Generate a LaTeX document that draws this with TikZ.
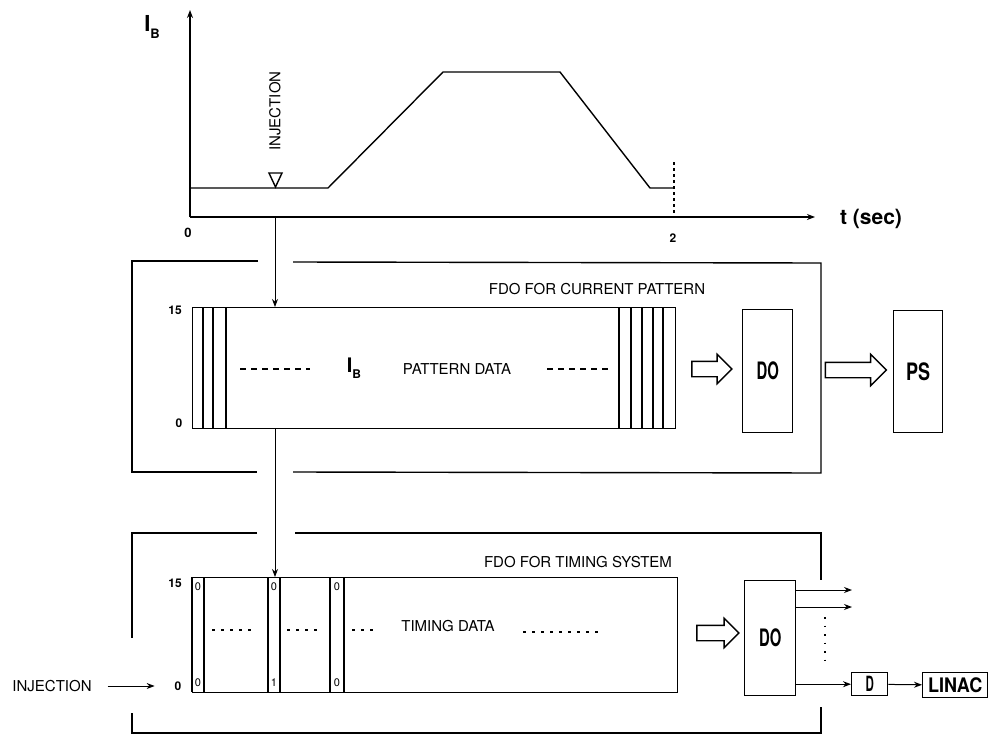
\documentclass[tikz,border=0pt]{standalone}
\usepackage{fontspec}
\setmainfont{TeX Gyre Heros}
\usetikzlibrary{arrows.meta,shapes.arrows}
\newcommand{\cnd}[2][0.7]{\scalebox{#1}[1]{\bfseries #2}}

\tikzset{
  blk/.style={draw,inner sep=0pt,anchor=north west},
  lbl/.style={font=\fontsize{15}{15}\selectfont},
  num/.style={font=\fontsize{12}{12}\selectfont\bfseries},
  bit/.style={font=\fontsize{11}{11}\selectfont,inner sep=0pt},
  big/.style={font=\fontsize{24}{24}\selectfont},
  fat/.style={draw,single arrow,inner sep=7pt,single arrow head extend=7pt,minimum height=#1},
  sig/.style={->,line width=1pt},
}

\begin{document}
\begin{tikzpicture}[x=1pt,y=-1pt,line width=1.4pt,>={Stealth[length=8pt,width=6pt]}]
  \useasboundingbox (0,0) rectangle (989,734);
  % magnet current cycle
  \coordinate (o) at (190,217);
  \draw[->] (o) -- (190,10);
  \draw[->] (o) -- (815,217);
  \node[font=\fontsize{22}{22}\selectfont\bfseries] (ib) at (152,27) {I\raisebox{-7pt}{\fontsize{13}{13}\selectfont B}};
  \node[font=\fontsize{21}{21}\selectfont\bfseries] (tsec) at (871,219) {t (sec)};
  \node[num,font=\fontsize{13}{13}\selectfont\bfseries] (t0) at (188,233) {0};
  \node[num] (t2) at (673,238) {2};
  \draw (190,188) -- (328,188) -- (443,72) -- (560,72) -- (650,188) -- (674,188);
  \draw[dashed] (674,162) -- (674,217);
  \draw (269,173) -- (282,173) -- (275.5,187) -- cycle;
  \node[lbl,rotate=90] (injv) at (275,111) {INJECTION};
  \coordinate (inj) at (275,217);

  % FDO for current pattern
  \draw (258,261) -- (132,261) -- (132,472) -- (257,472);
  \draw (293,262) -- (821,263) -- (821,473) -- (293,472);
  \node[lbl] (fdo1) at (597,289) {FDO FOR CURRENT PATTERN};
  \node[blk,minimum width=483pt,minimum height=121pt] (pat) at (192,307) {};
  \foreach \x in {203,213,226,619,631,642,653,663}
    \draw (\x,307) -- (\x,428);
  \node[num] (p15) at (175,310) {15};
  \node[num] (p0) at (179,423) {0};
  \draw[dash pattern=on 6pt off 5pt] (240,369) -- (310,369);
  \draw[dash pattern=on 6pt off 5pt] (547,369) -- (608,369);
  \node[font=\fontsize{20}{20}\selectfont\bfseries] (ib2) at (354,368) {I\raisebox{-6pt}{\fontsize{12}{12}\selectfont B}};
  \node[lbl] (pdat) at (457,369) {PATTERN DATA};
  \node[fat=40pt] (a1) at (708,369) {};
  \node[blk,big,minimum width=50pt,minimum height=123pt] (do1) at (742,309) {\cnd[0.62]{DO}};
  \node[fat=61pt,single arrow head extend=8pt] (a2) at (852,370) {};
  \node[blk,big,minimum width=49pt,minimum height=122pt] (ps) at (893,310) {\cnd[0.75]{PS}};

  % FDO for timing system
  \draw (257,533) -- (132,533) -- (132,638);
  \draw (132,713) -- (132,733) -- (821,733) -- (821,707);
  \draw (295,533) -- (821,533) -- (821,580);
  \node[lbl] (fdo2) at (578,562) {FDO FOR TIMING SYSTEM};
  \node[blk,minimum width=485pt,minimum height=115pt] (tim) at (192,577) {};
  \foreach \l/\r/\t/\b in {192/204/0/0,268/280/0/1,330/344/0/0} {
    \draw (\l,577) -- (\l,692) (\r,577) -- (\r,692);
    \node[bit] (u\l) at ({(\l+\r)/2},587) {\t};
    \node[bit] (d\l) at ({(\l+\r)/2},683) {\b};
  }
  \node[num] (q15) at (175,583) {15};
  \node[num] (q0) at (178,686) {0};
  \draw[dash pattern=on 3pt off 6pt] (212,630) -- (257,630);
  \draw[dash pattern=on 3pt off 6pt] (287,630) -- (320,630);
  \draw[dash pattern=on 3pt off 6pt] (352,630) -- (377,630);
  \draw[dash pattern=on 3pt off 6pt] (523,632) -- (598,632);
  \node[lbl] (tdat) at (448,626) {TIMING DATA};
  \node[lbl] (inl) at (52,686) {INJECTION};
  \draw[sig,shorten <=12pt,shorten >=16pt] (inl.east) -- (q0.west);
  \node[fat=42pt] (a3) at (714,633) {};
  \node[blk,big,minimum width=51pt,minimum height=115pt] (do2) at (744,580) {\cnd[0.62]{DO}};
  \coordinate (e1) at (852,590);
  \coordinate (e2) at (852,607);
  \draw[sig] (do2.east |- e1) -- (e1);
  \draw[sig] (do2.east |- e2) -- (e2);
  \draw[line width=2pt,dash pattern=on 1.5pt off 7pt] (825,617) -- (825,668);
  \node[blk,font=\fontsize{21}{21}\selectfont,minimum width=36pt,minimum height=23pt] (dd) at (851,672) {\cnd[0.55]{D}};
  \node[blk,font=\fontsize{20}{20}\selectfont,minimum width=65pt,minimum height=25pt] (linac) at (922,672) {\cnd[0.9]{LINAC}};
  \draw[sig] (do2.east |- dd) -- (dd.west);
  \draw[sig] (dd) -- (linac);

  % injection timing links
  \draw[sig] (inj) -- (inj |- pat.north);
  \draw[sig] (inj |- pat.south) -- (inj |- tim.north);
\end{tikzpicture}
\end{document}
